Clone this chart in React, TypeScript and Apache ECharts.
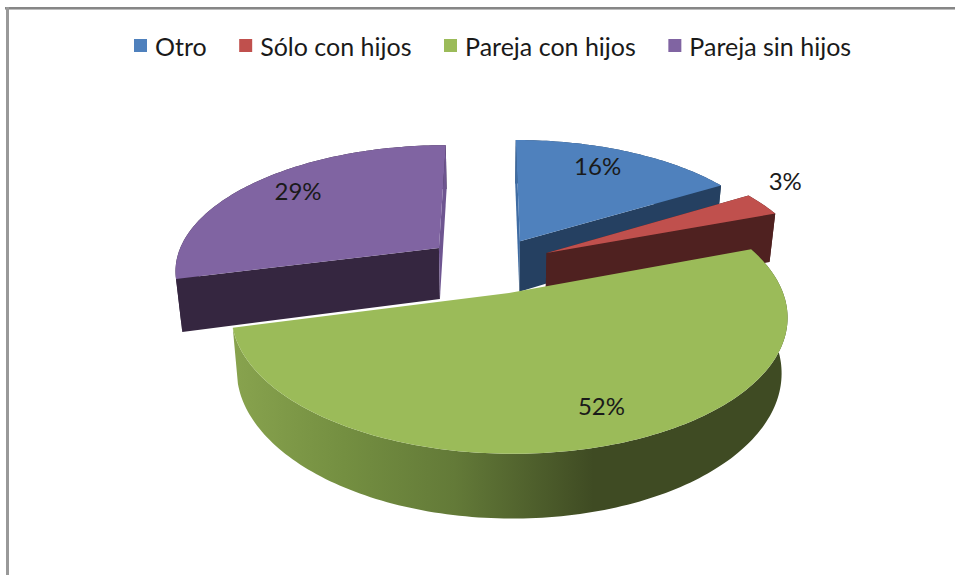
import React, { useEffect, useRef } from "react";
import * as echarts from "echarts";

const categories = ["Otro", "Sólo con hijos", "Pareja con hijos", "Pareja sin hijos"];
const shares = [16.4, 3, 51.6, 29];
const percentLabels = ["16%", "3%", "52%", "29%"];

const topColors = ["#4F81BD", "#C0504D", "#9BBB59", "#8064A2"];
const cutColors = ["#254061", "#4F2120", "#4F6228", "#352640"];
const startCutColors = ["#3F6CA3", "#4F2120", "", "#352640"];
const endCutColors = ["#254061", "#4F2120", "", "#6E5590"];
const layering = [2, 3, 4, 2];
const labelRadius = [0.8, 1.23, 0.79, 0.8];
const labelTurnDeg = [-3.5, -7, -4, 3];

const FONT = "Lato";
const OX = 489, OY = 265, A = 264.5, B = 124.7, K = 0.162, DEPTH = 52, SHRINK = 0.98;
const EXPLODE_X = 0.245, EXPLODE_Y = 0.226;

const total = shares.reduce((s, v) => s + v, 0);
const starts: number[] = [];
shares.reduce((s, v, i) => { starts[i] = s; return s + v; }, 0);
const toRad = (share: number) => (share / total) * Math.PI * 2;

function project(wx: number, wy: number, bottom: boolean): number[] {
  const d = 1 - K * wy;
  const X = (A * wx) / d;
  const Y = (B * wy) / d;
  return bottom ? [OX + X * SHRINK, OY + Y + DEPTH / d] : [OX + X, OY + Y];
}

function renderSlice(index: number, api: any) {
  const value = api.value(0);
  const a0 = toRad(starts[index]);
  const a1 = a0 + toRad(value);
  const mid = (a0 + a1) / 2;
  const cxw = EXPLODE_X * Math.sin(mid);
  const cyw = -EXPLODE_Y * Math.cos(mid);
  const rimWorld = (phi: number, r = 1) => [cxw + r * Math.sin(phi), cyw - r * Math.cos(phi)];
  const steps = Math.max(6, Math.ceil((a1 - a0) / 0.02));
  const rimTop: number[][] = [];
  const rimBottom: number[][] = [];
  for (let i = 0; i <= steps; i++) {
    const w = rimWorld(a0 + ((a1 - a0) * i) / steps);
    rimTop.push(project(w[0], w[1], false));
    rimBottom.push(project(w[0], w[1], true));
  }
  const apexTop = project(cxw, cyw, false);
  const apexBottom = project(cxw, cyw, true);
  const outerFill: any = index === 2
    ? new echarts.graphic.LinearGradient(0, 0, 1, 0, [
        { offset: 0, color: "#88A34E" },
        { offset: 0.2, color: "#748F41" },
        { offset: 0.4, color: "#637A38" },
        { offset: 0.65, color: "#3F4B23" },
        { offset: 1, color: "#3F4B23" },
      ])
    : cutColors[index];
  const lw = rimWorld(mid + (labelTurnDeg[index] * Math.PI) / 180, labelRadius[index]);
  const lp = project(lw[0], lw[1], false);
  const children: any[] = [
    { type: "polygon", shape: { points: [...rimTop, ...rimBottom.slice().reverse()] }, style: { fill: outerFill } },
  ];
  if (startCutColors[index]) {
    children.push({ type: "polygon", shape: { points: [apexTop, rimTop[0], rimBottom[0], apexBottom] }, style: { fill: startCutColors[index] } });
  }
  if (endCutColors[index]) {
    children.push({ type: "polygon", shape: { points: [apexTop, rimTop[steps], rimBottom[steps], apexBottom] }, style: { fill: endCutColors[index] } });
  }
  children.push({ type: "polygon", shape: { points: [apexTop, ...rimTop] }, style: { fill: topColors[index] } });
  children.push({
    type: "text",
    style: {
      x: lp[0], y: lp[1], text: percentLabels[index], fill: "#1a1a1a",
      font: `24px ${FONT}`, align: "center", verticalAlign: "middle",
    },
  });
  return { type: "group", children };
}

export default function App() {
  const ref = useRef<HTMLDivElement>(null);
  useEffect(() => {
    const chart = echarts.init(ref.current!, null, { renderer: "svg" });
    chart.setOption({
      animation: false,
      backgroundColor: "#ffffff",
      legend: {
        left: 129, top: 28, icon: "rect", itemWidth: 13, itemHeight: 13, itemGap: 32.5,
        data: categories,
        textStyle: { fontFamily: FONT, fontSize: 25, color: "#1a1a1a", padding: [0, 0, 0, 3] },
      },
      graphic: [
        { type: "rect", shape: { x: 5, y: 7, width: 950, height: 2 }, style: { fill: "#868686" } },
        { type: "rect", shape: { x: 5, y: 9, width: 950, height: 1 }, style: { fill: "#BDBDBD" } },
        { type: "rect", shape: { x: 6, y: 7, width: 3, height: 568 }, style: { fill: "#999999" } },
      ],
      series: categories.map((name, i) => ({
        type: "custom",
        name,
        coordinateSystem: "none",
        z: layering[i],
        itemStyle: { color: topColors[i] },
        data: [[shares[i]]],
        renderItem: (_p: any, api: any) => renderSlice(i, api),
      })),
    });
    return () => chart.dispose();
  }, []);
  return <div ref={ref} style={{ position: "fixed", left: 0, top: 0, width: 955, height: 575 }} />;
}
